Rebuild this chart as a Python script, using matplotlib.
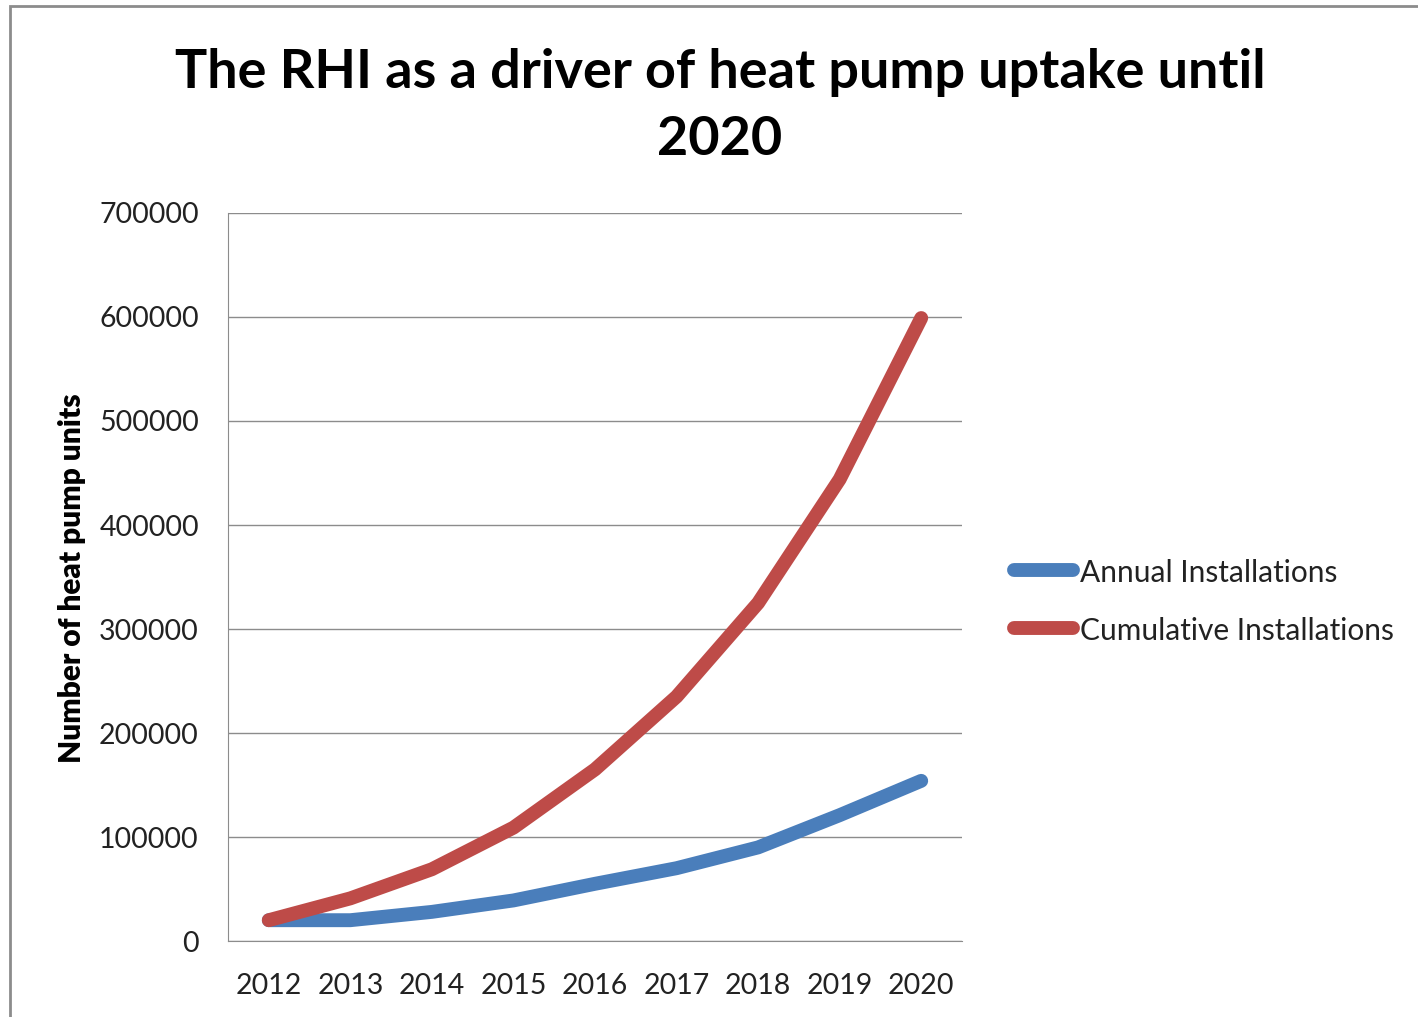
import matplotlib
matplotlib.use("Agg")
import matplotlib.pyplot as plt
from matplotlib.patches import Rectangle
from matplotlib.lines import Line2D

years = ["2012", "2013", "2014", "2015", "2016", "2017", "2018", "2019", "2020"]
annual = [20000, 20000, 28000, 39000, 55000, 70000, 90000, 121000, 154000]
cumulative = [20000, 41000, 69000, 109000, 165000, 235000, 325000, 444000, 599000]
series_names = ["Annual Installations", "Cumulative Installations"]
yticks = [0, 100000, 200000, 300000, 400000, 500000, 600000, 700000]

plt.rcParams['font.family'] = ['Lato', 'DejaVu Sans']

W, H = 1418, 1017
fig = plt.figure(figsize=(W / 100, H / 100), dpi=100)
fig.patch.set_facecolor("white")

# outer border
fig.patches.append(Rectangle((10 / W, -0.05), 1.2, 1 - 6 / H + 0.05,
                             transform=fig.transFigure, fill=False,
                             edgecolor="#8c8c8c", linewidth=2))

ax = fig.add_axes([228 / W, 1 - 941 / H, (962 - 228) / W, (941 - 213) / H])
x = list(range(len(years)))
blue = "#4A7EBB"
red = "#BE4B48"
colors = [blue, red]
ax.plot(x, annual, color=blue, lw=10, solid_capstyle="round", solid_joinstyle="round", zorder=3)
ax.plot(x, cumulative, color=red, lw=10, solid_capstyle="round", solid_joinstyle="round", zorder=3)

ax.set_xlim(-0.5, len(years) - 0.5)
ax.set_ylim(0, 700000)
ax.set_yticks(yticks)
ax.set_yticklabels([str(v) for v in yticks], fontsize=20.5, color="#222222")
ax.set_xticks(x)
ax.set_xticklabels(years, fontsize=20.5, color="#222222")
ax.tick_params(axis="y", length=0, pad=21)
ax.tick_params(axis="x", length=0, pad=23)
ax.grid(axis="y", color="#8c8c8c", lw=1)
ax.set_axisbelow(True)
for s in ["top", "right"]:
    ax.spines[s].set_visible(False)
ax.spines["left"].set_color("#8c8c8c")
ax.spines["bottom"].set_color("#8c8c8c")
fig.text(72 / W, 1 - 578 / H, "Number of heat pump units", rotation=90,
         ha="center", va="center", fontsize=21.5, fontweight="heavy")

fig.text(720 / W, 1 - 106 / H, "The RHI as a driver of heat pump uptake until\n2020",
         ha="center", va="center", fontsize=38.9, fontweight="bold", linespacing=1.45)

# legend
for i, (name, c) in enumerate(zip(series_names, colors)):
    yy = 1 - (570 + 58 * i) / H
    fig.add_artist(Line2D([1014 / W, 1073 / W], [yy, yy], transform=fig.transFigure,
                          color=c, lw=10, solid_capstyle="round"))
    fig.text(1080 / W, yy, name, ha="left", va="center_baseline", fontsize=21.5, color="#222222")

fig.savefig("out.png", dpi=100)
